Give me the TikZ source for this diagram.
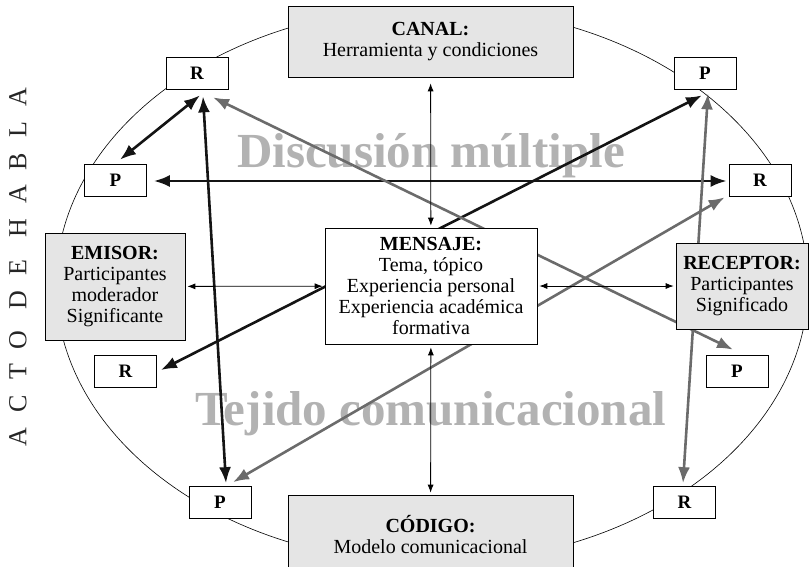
\documentclass[tikz,border=0pt]{standalone}
\usepackage{fontspec}
\setmainfont{Liberation Serif}
\newfontfamily\spacedfont[LetterSpace=58]{Liberation Serif}
\usetikzlibrary{positioning}
\usetikzlibrary{arrows.meta}
\usetikzlibrary{backgrounds}

\begin{document}
\begin{tikzpicture}[
    x=1pt, y=-1pt,
    font=\fontsize{20}{21}\selectfont
]
\tikzset{
    greybox/.style = {rectangle, draw=black, line width=0.7pt, fill=black!10, align=center, inner sep=0pt},
    whitebox/.style = {rectangle, draw=black, line width=0.7pt, fill=white, align=center, inner sep=0pt},
    smallbox/.style = {whitebox, minimum width=62pt, minimum height=32pt, font=\fontsize{19}{19}\selectfont\bfseries},
    bigarrow/.style = {{Latex[length=16pt,width=12pt]}-{Latex[length=16pt,width=12pt]}, line width=2.6pt, draw=black!92},
    greyarrow/.style = {bigarrow, draw=black!58},
    thinarrow/.style = {{Latex[length=8pt,width=6pt]}-{Latex[length=8pt,width=6pt]}, line width=0.8pt},
    bigword/.style = {text=black!30, font=\fontsize{49}{49}\selectfont\bfseries, anchor=base}
}
\useasboundingbox (0,0) rectangle (809,566);

% main boxes
\node[greybox, minimum width=285pt, minimum height=71pt] (canal) at (430.5,41.5) {\textbf{CANAL:}\\Herramienta y condiciones};
\node[greybox, minimum width=140pt, minimum height=107pt] (emisor) at (115,286.5) {\textbf{EMISOR:}\\Participantes\\moderador\\Significante};
\node[whitebox, minimum width=212pt, minimum height=116pt] (mensaje) at (431,286) {\textbf{MENSAJE:}\\Tema, tópico\\Experiencia personal\\Experiencia académica\\formativa};
\node[greybox, minimum width=132pt, minimum height=86pt] (receptor) at (742,286) {\textbf{RECEPTOR:}\\Participantes\\Significado};
\node[greybox, minimum width=285pt, minimum height=80pt] (codigo) at (430.5,535) {\textbf{CÓDIGO:}\\Modelo comunicacional};

% participants
\node[smallbox] (r1) at (197,73) {R};
\node[smallbox] (p1) at (115.5,180) {P};
\node[smallbox] (r3) at (125.5,371) {R};
\node[smallbox] (p3) at (220,502.5) {P};
\node[smallbox] (p2) at (705,73) {P};
\node[smallbox] (r2) at (760,180) {R};
\node[smallbox] (p4) at (737,371) {P};
\node[smallbox] (r4) at (684.5,502.5) {R};

\node[rotate=90, text=black!85, font=\spacedfont\fontsize{26}{26}\selectfont] (acto) at (18,267) {ACTO DE HABLA};

\begin{scope}[on background layer]
\draw[line width=0.6pt] (432,285) ellipse [x radius=376pt, y radius=278pt];
\node[bigword] (discusion) at (431,167) {Discusión múltiple};
\node[bigword] (tejido) at (431,425) {Tejido comunicacional};
\draw[bigarrow] ([shift={(3,6)}]r1.south) -- ([shift={(4.5,-4)}]p1.north);
\draw[bigarrow] ([shift={(7,1)}]p1.east) -- ([shift={(-2,1)}]r2.west);
\draw[bigarrow] ([shift={(6,7)}]r1.south) -- ([shift={(6,-3)}]p3.north);
\draw[bigarrow] ([shift={(4,-1)}]r3.east) -- ([shift={(-3,6)}]p2.south);
\draw[greyarrow] ([shift={(16,8)}]r1.south) -- ([shift={(-4,-5)}]p4.north);
\draw[greyarrow] ([shift={(3,4)}]p2.south) -- ([shift={(-1.5,-3)}]r4.north);
\draw[greyarrow] ([shift={(-4,1)}]r2.south west) -- ([shift={(13,-4)}]p3.north);
\end{scope}

\draw[thinarrow, shorten <=6pt, shorten >=2pt] (canal) -- (mensaje);
\draw[thinarrow, shorten <=3pt, shorten >=2pt] (mensaje) -- (codigo);
\draw[thinarrow, shorten <=2pt, shorten >=2pt] (emisor) -- (mensaje);
\draw[thinarrow, shorten <=2pt, shorten >=2pt] (mensaje) -- (receptor);
\end{tikzpicture}
\end{document}
